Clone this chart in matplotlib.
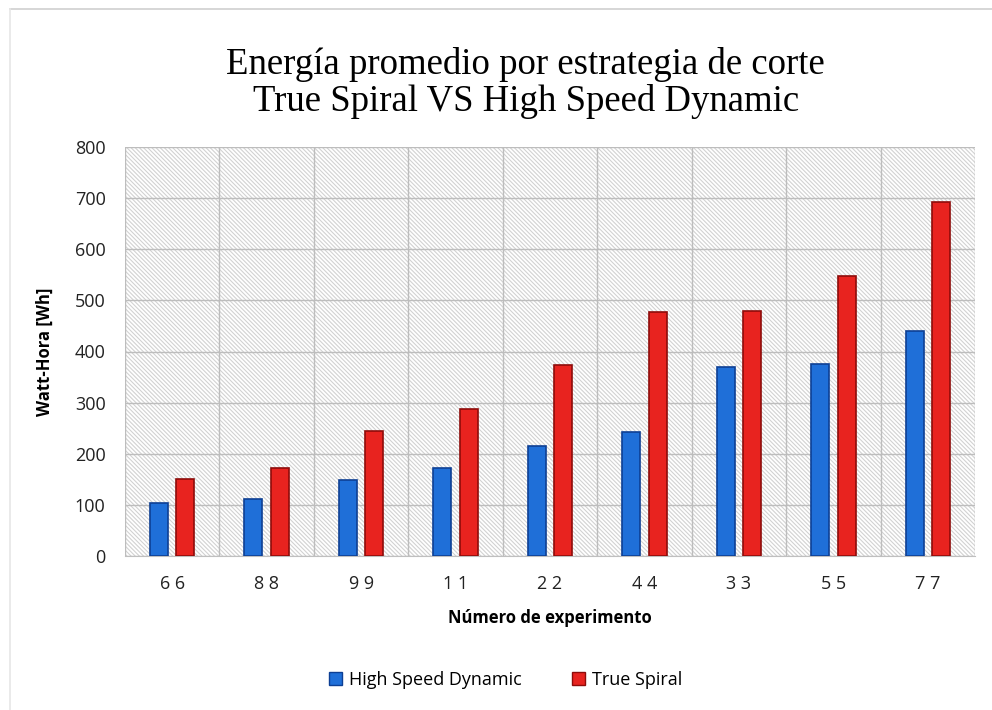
import numpy as np
import matplotlib
matplotlib.use("Agg")
import matplotlib.pyplot as plt
from matplotlib.lines import Line2D

# Energía promedio por experimento, dos estrategias de corte
experimentos = ["6 6", "8 8", "9 9", "1 1", "2 2", "4 4", "3 3", "5 5", "7 7"]
high_speed = [104, 112, 148, 172, 215, 243, 369, 376, 441]
true_spiral = [150, 172, 245, 288, 374, 478, 480, 548, 692]

azul = "#1f6fd8"
azul_borde = "#0d3f94"
rojo = "#e8231f"
rojo_borde = "#8e0c0a"

plt.rcParams["hatch.linewidth"] = 0.8

fig = plt.figure(figsize=(9.92, 7.1), dpi=100)
ax = fig.add_axes([125 / 992, 1 - 556 / 710, 850 / 992, 409 / 710])

x = np.arange(len(experimentos))
ancho = 0.19
desp = 0.14

# fondo rayado del area de trazado
ax.set_facecolor("white")
ax.add_patch(plt.Rectangle((0, 0), 1, 1, transform=ax.transAxes, facecolor="white",
                           edgecolor="#d2d2d2", linewidth=0, hatch="\\" * 8, zorder=0))

ax.bar(x - desp, high_speed, width=ancho, color=azul, edgecolor=azul_borde,
       linewidth=1.2, zorder=3, label="High Speed Dynamic")
ax.bar(x + desp, true_spiral, width=ancho, color=rojo, edgecolor=rojo_borde,
       linewidth=1.2, zorder=3, label="True Spiral")

ax.set_xlim(-0.5, len(experimentos) - 0.5)
ax.set_ylim(0, 800)
ax.set_yticks(range(0, 801, 100))
ax.set_xticks(x)
ax.set_xticklabels(experimentos)
ax.set_xticks(np.arange(-0.5, len(experimentos)), minor=True)

ax.grid(axis="y", which="major", color="#bdbdbd", linewidth=1.0, zorder=1)
ax.grid(axis="x", which="minor", color="#bdbdbd", linewidth=1.0, zorder=1)
ax.set_axisbelow(True)

for lado in ["top", "right", "left"]:
    ax.spines[lado].set_visible(False)
ax.spines["bottom"].set_color("#bfbfbf")
ax.tick_params(axis="both", which="both", length=0)
ax.tick_params(axis="y", labelsize=13, colors="#222222", pad=14)
ax.tick_params(axis="x", labelsize=13, colors="#222222", pad=14)
for t in ax.get_xticklabels() + ax.get_yticklabels():
    t.set_fontfamily("Open Sans")

ax.set_ylabel("Watt-Hora [Wh]", fontsize=12, fontweight="bold", family="Open Sans",
              labelpad=15)
ax.set_xlabel("Número de experimento", fontsize=12, fontweight="bold", family="Open Sans",
              labelpad=11)

fig.text(0.53, 1 - 83 / 710, "Energía promedio por estrategia de corte\nTrue Spiral VS High Speed Dynamic",
         ha="center", va="center", fontsize=26.5, family="Liberation Serif", linespacing=1.1)

leyenda = [plt.Rectangle((0, 0), 1, 1, facecolor=azul, edgecolor=azul_borde),
           plt.Rectangle((0, 0), 1, 1, facecolor=rojo, edgecolor=rojo_borde)]
fig.legend(leyenda, ["High Speed Dynamic", "True Spiral"], loc="center",
           bbox_to_anchor=(0.51, 1 - 680 / 710), ncol=2, frameon=False,
           prop={"family": "Open Sans", "size": 13}, handlelength=0.7,
           handleheight=0.7, handletextpad=0.4, columnspacing=2.8)

# marco tenue arriba y a la izquierda
fig.add_artist(Line2D([10 / 992, 1], [1 - 9 / 710, 1 - 9 / 710], color="#d0d0d0", lw=1.2))
fig.add_artist(Line2D([10 / 992, 10 / 992], [0, 1 - 9 / 710], color="#e6e6e6", lw=1.2))

fig.savefig("out.png", dpi=100)
